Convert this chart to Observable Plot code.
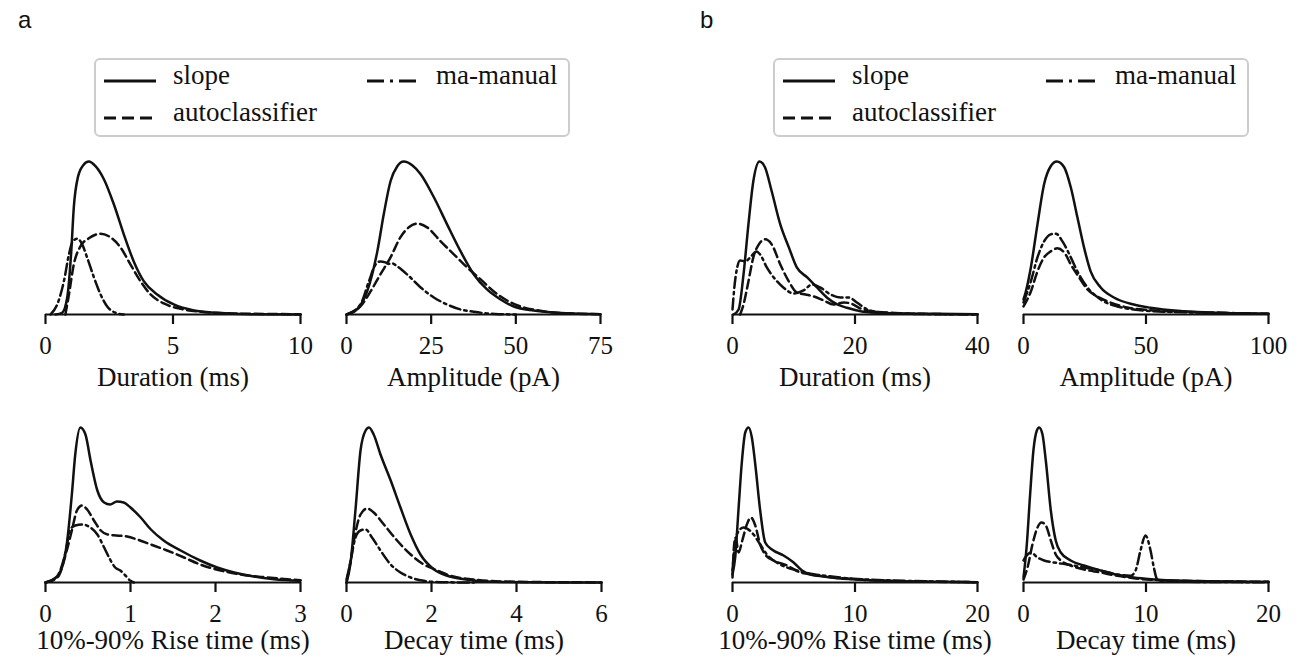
<!DOCTYPE html>
<html><head><meta charset="utf-8">
<script src="https://cdn.jsdelivr.net/npm/d3@7"></script>
<script src="https://cdn.jsdelivr.net/npm/@observablehq/plot@0.6"></script>
<style>
html,body{margin:0;padding:0;background:#fff;}
#root{position:relative;width:1303px;height:659px;overflow:hidden;background:#fff;font-family:"Liberation Serif","Times New Roman",Times,"DejaVu Serif","Noto Serif",serif;color:#111;}
.panel{position:absolute;}
.panel svg{max-width:none !important;}
.legend{position:absolute;box-sizing:border-box;border:2.5px solid #cdcdcd;border-radius:6px;background:#fff;}
.legend .txt{position:absolute;font-family:"Liberation Serif","Times New Roman",Times,"DejaVu Serif","Noto Serif",serif;font-size:27px;line-height:30px;white-space:nowrap;color:#111;}
.legend svg{position:absolute;overflow:visible;}
.tag{position:absolute;font-family:"Liberation Sans",Arial,sans-serif;font-size:24px;line-height:24px;color:#111;}
</style></head>
<body><div id="root"></div>
<script>
// ---------- legend / series names ----------
const seriesNames = ["slope", "autoclassifier", "ma-manual"];

// ---------- panel a : Duration (ms) ----------
const aDuration_slope = [[0.39,0],[0.65,1.7],[0.85,16.7],[1.01,63],[1.11,107],[1.27,137],[1.48,149],[1.70,152.7],[1.96,148],[2.29,135],[2.68,110],[3.07,80],[3.46,53],[3.86,33],[4.38,20],[5.03,10],[5.82,4],[6.73,1.7],[8.04,0.3],[10,0]];
const aDuration_auto = [[0.78,0],[0.92,20],[1.11,50],[1.37,68],[1.70,76],[2.16,80.7],[2.55,77],[2.94,67],[3.33,50],[3.73,33],[4.12,20],[4.64,11],[5.29,5.7],[6.08,2.7],[7.39,1],[10,0.3]];
const aDuration_manual = [[0.2,0],[0.46,10],[0.72,33],[0.92,60],[1.05,72],[1.24,75.7],[1.44,70],[1.63,57],[1.90,37],[2.16,20],[2.42,8],[2.75,1.7],[3.07,0]];

// ---------- panel a : Amplitude (pA) ----------
const aAmplitude_slope = [[0.2,0],[3.1,5],[6.1,23],[9.1,63],[11.0,100],[13.0,133],[15.0,148],[16.9,152.7],[19.4,149],[21.9,140],[25.8,117],[29.7,90],[33.7,63],[37.6,40],[41.5,25],[45.5,15],[49.4,8],[55.3,4],[61.2,2],[67.1,1],[75,0.3]];
const aAmplitude_auto = [[0,0],[1.2,1.7],[4.1,8],[7.1,23],[10.0,40],[13.0,57],[15.9,77],[18.4,87],[20.9,90.7],[23.8,87],[27.8,73],[31.7,60],[35.6,47],[39.6,35],[43.5,23],[47.4,14],[51.4,8],[56.3,4.3],[61.2,2],[67.1,1],[75,0.3]];
const aAmplitude_manual = [[0,0],[4.1,10],[6.6,33],[8.6,50],[10.0,53],[11.5,52],[12.5,50.5],[13.5,51],[15.0,48],[17.9,40],[21.9,27],[25.8,17],[29.7,10],[33.7,5],[37.6,2.7],[41.5,1],[45.5,0.3],[50,0]];

// ---------- panel a : 10%-90% Rise time (ms) ----------
const aRise_slope = [[0,0],[0.1,3.3],[0.18,11.7],[0.25,38],[0.31,88],[0.35,128],[0.41,155],[0.47,148],[0.53,122],[0.61,92],[0.69,80],[0.76,78],[0.84,81],[0.92,80],[1.0,75],[1.12,65],[1.24,53],[1.39,42],[1.59,32],[1.82,22],[2.02,15],[2.22,10],[2.45,6],[2.69,3.3],[3.0,1.7]];
const aRise_auto = [[0,0],[0.14,5],[0.25,32],[0.31,52],[0.37,72],[0.43,77],[0.49,73],[0.57,62],[0.65,52],[0.73,48],[0.84,47],[0.96,46],[1.08,43],[1.24,38],[1.43,32],[1.63,25],[1.82,18],[2.06,12],[2.29,8],[2.61,5],[3.0,2.3]];
const aRise_manual = [[0,0],[0.14,6.7],[0.24,32],[0.29,53],[0.35,57],[0.43,58],[0.51,56],[0.61,48],[0.69,35],[0.76,23],[0.82,15],[0.88,12],[0.94,7],[1.0,1.7],[1.04,0]];

// ---------- panel a : Decay time (ms) ----------
const aDecay_slope = [[0,0],[0.09,18],[0.21,72],[0.33,132],[0.45,152],[0.53,155],[0.64,148],[0.8,128],[1.04,102],[1.27,75],[1.51,48],[1.74,28],[2.06,13],[2.37,6.7],[2.77,3.3],[3.31,1],[4.1,0.3],[6,0]];
const aDecay_auto = [[0,0],[0.09,20],[0.21,50],[0.33,68],[0.49,74],[0.64,70],[0.88,58],[1.19,42],[1.51,28],[1.82,18],[2.14,12],[2.45,6.7],[2.92,3.3],[3.71,1],[4.89,0.3],[6,0.1]];
const aDecay_manual = [[0,3],[0.09,20],[0.21,45],[0.33,52],[0.45,53],[0.6,45],[0.8,32],[1.04,18],[1.27,10],[1.51,5],[1.82,1.7],[2.2,0.3],[3,0]];

// ---------- panel b : Duration (ms) ----------
const bDuration_slope = [[0.16,0],[1.0,5],[1.8,40],[2.6,90],[3.4,133],[4.4,152.7],[5.3,147],[6.4,123],[7.8,90],[9.2,67],[10.5,47],[12.2,37],[13.8,27],[15.4,17],[17.1,10],[18.7,6.7],[20.9,3.3],[23.6,1.7],[27.4,1],[32.9,0.7],[40,0.3]];
const bDuration_auto = [[1.25,0],[1.8,10],[2.6,33],[3.4,57],[4.3,70],[5.3,75],[6.4,70],[7.8,50],[9.2,33],[10.5,22],[11.9,20],[13.3,18],[14.9,14],[16.5,10],[18.2,12],[19.3,11],[20.9,6],[23.1,3],[27.4,1.3],[32.9,0.5],[40,0.2]];
const bDuration_manual = [[0,5],[0.27,25],[0.7,45],[1.25,54],[2.1,53],[2.9,57],[3.9,63],[4.5,60],[5.6,47],[7.0,35],[8.3,27],[10.0,21],[11.6,24],[13.0,30],[14.3,27],[16.0,20],[17.6,17],[19.0,17],[20.3,12],[22.0,5],[24.2,2],[27.4,1],[32.9,0.3],[40,0.1]];

// ---------- panel b : Amplitude (pA) ----------
const bAmplitude_slope = [[0,15],[0.95,23],[3.0,47],[5.7,90],[8.4,130],[11.1,148],[13.6,152.7],[16.6,147],[19.3,127],[22.0,97],[24.7,67],[27.4,43],[31.5,27],[36.9,17],[45.0,10],[51.8,6.7],[65.4,3.3],[79.0,1.7],[100,0.7]];
const bAmplitude_auto = [[0,8],[3.0,23],[5.7,43],[8.4,57],[11.1,63],[13.8,66],[16.6,62],[19.3,50],[22.7,37],[26.1,25],[30.1,18],[35.5,12],[42.3,7],[51.8,4.3],[65.4,2.7],[79.0,1.7],[100,0.7]];
const bAmplitude_manual = [[0,12],[3.0,33],[5.7,57],[8.4,73],[11.1,80],[13.2,80.7],[15.9,73],[19.3,57],[22.0,43],[26.1,27],[31.5,15],[38.3,8],[45.0,5],[58.6,2.7],[79.0,1.7],[100,0.7]];

// ---------- panel b : 10%-90% Rise time (ms) ----------
const bRise_slope = [[0,8],[0.22,25],[0.49,73],[0.76,120],[1.04,150],[1.31,155],[1.58,145],[1.86,118],[2.26,72],[2.67,40],[3.22,33],[4.17,27],[4.99,20],[5.68,12],[6.36,8],[7.45,6],[8.81,4],[10.2,3],[12.4,1.7],[16.5,0.7],[20,0.3]];
const bRise_auto = [[0,5],[0.12,36],[0.25,45],[0.5,30],[0.8,42],[1.17,58],[1.5,65],[1.86,57],[2.26,38],[2.67,28],[3.36,22],[4.45,17],[5.54,10],[6.63,7.7],[8.27,5],[9.9,3.3],[12.4,1.7],[16.5,0.7],[20,0.3]];
const bRise_manual = [[0,12],[0.14,32],[0.35,48],[0.9,55],[1.72,48],[2.26,38],[2.81,28],[3.9,18],[5.27,12],[6.63,8.3],[8.27,5.7],[9.9,3.7],[12.4,2.3],[16.5,1],[20,0.3]];

// ---------- panel b : Decay time (ms) ----------
const bDecay_slope = [[0,5],[0.27,38],[0.54,88],[0.81,132],[1.09,152],[1.28,155],[1.55,148],[1.82,122],[2.23,72],[2.63,42],[3.04,30],[3.85,22],[4.94,17],[6.3,12],[7.65,7.7],[9.0,5],[10.4,3.3],[13.1,1.7],[20,0.7]];
const bDecay_auto = [[0,3],[0.33,15],[0.73,38],[1.14,55],[1.47,60],[1.82,57],[2.23,42],[2.63,28],[3.04,22],[3.85,17],[4.94,13],[6.3,10],[7.65,6.7],[9.0,4.3],[10.4,2.7],[13.1,1.7],[20,0.7]];
const bDecay_manual = [[0,22],[0.33,28],[0.6,30],[1.14,25],[1.68,22],[2.5,20],[3.58,18],[4.94,15],[6.3,12],[7.65,8],[8.74,6.7],[9.15,12],[9.55,32],[9.96,47],[10.37,32],[10.64,15],[10.9,3.3],[11.3,1],[13.1,0.7],[20,0.3]];

// ---------- axis tick values and titles ----------
const ticksADuration = [0, 5, 10];
const ticksAAmplitude = [0, 25, 50, 75];
const ticksARise = [0, 1, 2, 3];
const ticksADecay = [0, 2, 4, 6];
const ticksBDuration = [0, 20, 40];
const ticksBAmplitude = [0, 50, 100];
const ticksBRise = [0, 10, 20];
const ticksBDecay = [0, 10, 20];
const titles = ["Duration (ms)", "Amplitude (pA)", "10%-90% Rise time (ms)", "Decay time (ms)"];

// ---------- styles ----------
const INK = "#111";
const LW = 2.5;
const DASH = "9,4.5";
const DASHDOT = "11,4,2.5,4";
const styles = [null, DASH, DASHDOT];
const SERIF = "'Liberation Serif','Times New Roman',Times,'DejaVu Serif','Noto Serif',serif";

const root = document.getElementById("root");

function toRows(arr) { return arr.map(([x, y]) => ({x, y})); }

function panel(opts) {
  const {axisX, len, ticks, title, series, row} = opts;
  const mL = 45, mR = 35, mT = 10;
  const innerH = row === 0 ? 153 : 155;
  const mB = row === 0 ? 80 : 77;
  const titleDy = row === 0 ? 63 : 58;
  const ymax = d3.max(series.flat(), d => d[1]);
  const xmax = ticks[ticks.length - 1];
  const marks = [];
  series.forEach((s, i) => {
    marks.push(Plot.line(toRows(s), {x: "x", y: "y", stroke: INK, strokeWidth: LW,
      strokeDasharray: styles[i] || undefined, curve: "monotone-x", strokeLinejoin: "round"}));
  });
  marks.push(Plot.ruleY([0], {stroke: INK, strokeWidth: 2.2}));
  marks.push(Plot.axisX({ticks, tickSize: 10, tickPadding: 12, stroke: INK, strokeWidth: 2.2,
    fill: INK, fontSize: 25, fontFamily: SERIF, label: null, tickFormat: d => String(d)}));
  marks.push(Plot.text([title], {frameAnchor: "bottom", dy: titleDy, fontSize: 27, fontFamily: SERIF, fill: INK, lineAnchor: "middle"}));
  const W = len + mL + mR, H = mT + innerH + mB;
  const svg = Plot.plot({
    width: W,
    height: H,
    marginLeft: mL, marginRight: mR, marginTop: mT, marginBottom: mB,
    x: {domain: [0, xmax]},
    y: {domain: [0, ymax], axis: null},
    style: {background: "transparent", overflow: "visible", fontFamily: SERIF, color: INK, maxWidth: "none"},
    marks
  });
  const wrap = document.createElement("div");
  wrap.className = "panel";
  wrap.style.left = (axisX - mL) + "px";
  wrap.style.width = W + "px";
  wrap.style.height = H + "px";
  const baseline = row === 0 ? 314 : 582;
  wrap.style.top = (baseline - innerH - mT) + "px";
  wrap.appendChild(svg);
  root.appendChild(wrap);
}

panel({axisX: 45, len: 255, ticks: ticksADuration, title: titles[0], row: 0,
  series: [aDuration_slope, aDuration_auto, aDuration_manual]});
panel({axisX: 346, len: 254, ticks: ticksAAmplitude, title: titles[1], row: 0,
  series: [aAmplitude_slope, aAmplitude_auto, aAmplitude_manual]});
panel({axisX: 45, len: 255, ticks: ticksARise, title: titles[2], row: 1,
  series: [aRise_slope, aRise_auto, aRise_manual]});
panel({axisX: 346, len: 255, ticks: ticksADecay, title: titles[3], row: 1,
  series: [aDecay_slope, aDecay_auto, aDecay_manual]});
panel({axisX: 732, len: 245, ticks: ticksBDuration, title: titles[0], row: 0,
  series: [bDuration_slope, bDuration_auto, bDuration_manual]});
panel({axisX: 1023, len: 245, ticks: ticksBAmplitude, title: titles[1], row: 0,
  series: [bAmplitude_slope, bAmplitude_auto, bAmplitude_manual]});
panel({axisX: 732, len: 245, ticks: ticksBRise, title: titles[2], row: 1,
  series: [bRise_slope, bRise_auto, bRise_manual]});
panel({axisX: 1023, len: 245, ticks: ticksBDecay, title: titles[3], row: 1,
  series: [bDecay_slope, bDecay_auto, bDecay_manual]});

// ---------- legends ----------
function sampleLine(dash) {
  const ns = "http://www.w3.org/2000/svg";
  const s = document.createElementNS(ns, "svg");
  s.setAttribute("width", 52); s.setAttribute("height", 8);
  const l = document.createElementNS(ns, "line");
  l.setAttribute("x1", 0); l.setAttribute("x2", 52); l.setAttribute("y1", 4); l.setAttribute("y2", 4);
  l.setAttribute("stroke", INK); l.setAttribute("stroke-width", 3);
  if (dash) l.setAttribute("stroke-dasharray", dash === DASH ? "12,6" : "17,6,3,6");
  s.appendChild(l);
  return s;
}
function legend(left) {
  const box = document.createElement("div");
  box.className = "legend";
  Object.assign(box.style, {left: left + "px", top: "58px", width: "476px", height: "79px"});
  const items = [
    {name: seriesNames[0], dash: null, lx: 8, ly: 17, tx: 77, ty: 0},
    {name: seriesNames[2], dash: DASHDOT, lx: 271, ly: 17, tx: 340, ty: 0},
    {name: seriesNames[1], dash: DASH, lx: 8, ly: 54, tx: 77, ty: 37}
  ];
  items.forEach(it => {
    const s = sampleLine(it.dash);
    s.style.left = it.lx + "px"; s.style.top = it.ly + "px";
    box.appendChild(s);
    const t = document.createElement("div");
    t.className = "txt"; t.textContent = it.name;
    t.style.left = it.tx + "px"; t.style.top = it.ty + "px";
    box.appendChild(t);
  });
  root.appendChild(box);
}
legend(94);
legend(773);

function tag(txt, left) {
  const d = document.createElement("div");
  d.className = "tag"; d.textContent = txt;
  d.style.left = left + "px"; d.style.top = "8px";
  root.appendChild(d);
}
tag("a", 18);
tag("b", 700);
</script>
</body></html>
